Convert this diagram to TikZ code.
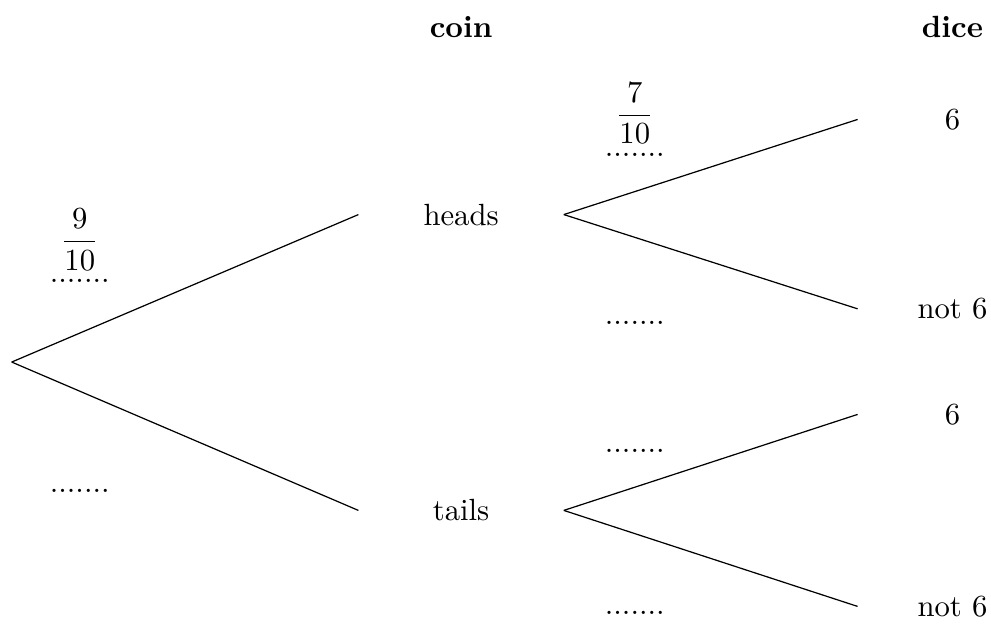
\documentclass[tikz,border=0pt]{standalone}
\usepackage{amsmath}
\usepackage{tikz}
\usetikzlibrary{positioning}

\begin{document}
\begin{tikzpicture}[coinnode/.style={inner sep=0pt,minimum width=2.34cm},
  dicenode/.style={inner sep=0pt,minimum width=2.16cm},
  probnode/.style={anchor=base,inner sep=0pt}]
  \useasboundingbox (-0.134,-2.991) rectangle (11.222,4.149);

  % headings
  \node[anchor=base] (coinhead) at (5.15,3.72) {\textbf{coin}};
  \node[anchor=base] (dicehead) at (10.78,3.72) {\textbf{dice}};

  \coordinate (root) at (0,0);
  \node[coinnode] (heads) at (5.15,1.69) {heads};
  \node[coinnode] (tails) at (5.15,-1.70) {tails};
  \node[dicenode] (hsix) at (10.78,2.78) {6};
  \node[dicenode] (hnot) at (10.78,0.61) {not 6};
  \node[dicenode] (tsix) at (10.78,-0.60) {6};
  \node[dicenode] (tnot) at (10.78,-2.80) {not 6};

  \path (root) edge (heads.west);
  \path (root) edge (tails.west);
  \path (heads.east) edge (hsix.west);
  \path (heads.east) edge (hnot.west);
  \path (tails.east) edge (tsix.west);
  \path (tails.east) edge (tnot.west);

  % probabilities
  \node[probnode] (pheads) at (0.78,0.91) {.......};
  \node[probnode] (fheads) at (0.78,1.29) {$\dfrac{9}{10}$};
  \node[probnode] (ptails) at (0.78,-1.50) {.......};
  \node[probnode] (phsix) at (7.14,2.36) {.......};
  \node[probnode] (fhsix) at (7.14,2.74) {$\dfrac{7}{10}$};
  \node[probnode] (phnot) at (7.14,0.43) {.......};
  \node[probnode] (ptsix) at (7.14,-1.04) {.......};
  \node[probnode] (ptnot) at (7.14,-2.89) {.......};
\end{tikzpicture}
\end{document}
